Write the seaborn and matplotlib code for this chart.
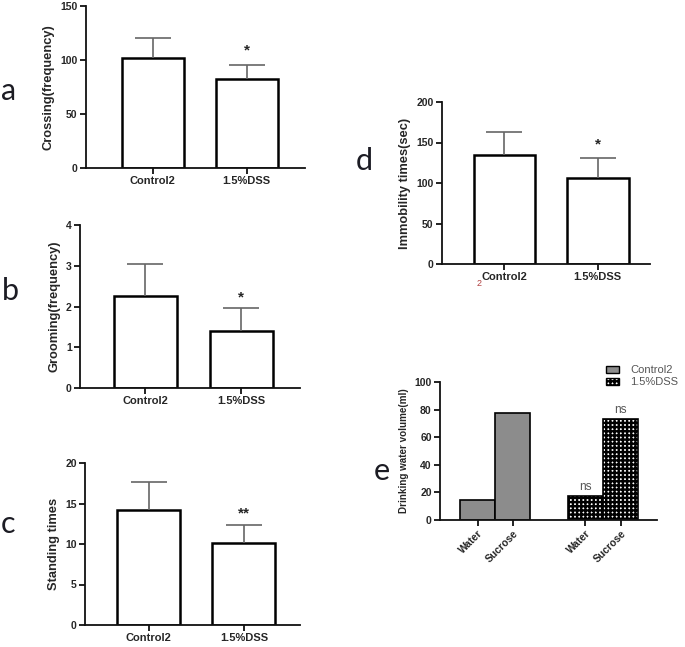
import matplotlib
matplotlib.use("Agg")
import matplotlib.pyplot as plt
import seaborn as sns
import pandas as pd
import numpy as np
from matplotlib.patches import Patch

sns.set_style("ticks")
plt.rcParams['font.family'] = ['Liberation Sans', 'DejaVu Sans']
plt.rcParams['hatch.linewidth'] = 1.7

groups = ["Control2", "1.5%DSS"]

crossing_mean = [101.6, 82.4]
crossing_sd = [18.4, 13.0]
grooming_mean = [2.26, 1.41]
grooming_sd = [0.78, 0.55]
standing_mean = [14.16, 10.09]
standing_sd = [3.49, 2.21]
immob_mean = [134.2, 105.8]
immob_sd = [29.1, 24.7]

drink_groups = ["Control2", "1.5%DSS"]
drink_types = ["Water", "Sucrose"]
drink_control = [14.2, 77.8]
drink_dss = [17.4, 73.0]

W, H = 685, 647
fig = plt.figure(figsize=(W / 100, H / 100), dpi=100)


def axes_px(left, right, top, bottom):
    return fig.add_axes([left / W, 1 - bottom / H, (right - left) / W, (bottom - top) / H])


def style_axes(ax):
    for s in ["top", "right"]:
        ax.spines[s].set_visible(False)
    for s in ["left", "bottom"]:
        ax.spines[s].set_linewidth(1.3)
        ax.spines[s].set_color("#111111")
    ax.tick_params(axis="both", direction="out", length=4, width=1.3, color="#111111", pad=2)
    for lab in ax.get_yticklabels():
        lab.set_fontweight("bold")
        lab.set_fontsize(7.5)
    for lab in ax.get_xticklabels():
        lab.set_fontweight("bold")
        lab.set_fontsize(8)


def bar_panel(ax, means, sds, ylim, yticks, ylabel, xlim, star, star_y, ylabelsize):
    df = pd.DataFrame({"group": groups, "value": means})
    sns.barplot(data=df, x="group", y="value", order=groups, color="white",
                edgecolor="black", linewidth=1.8, width=0.66, errorbar=None,
                saturation=1, ax=ax)
    eb = ax.errorbar(np.arange(len(means)), means, yerr=[np.zeros(len(sds)), sds],
                     fmt="none", ecolor="#666666", elinewidth=1.2, capsize=13,
                     capthick=1.2, zorder=3)
    caplines = eb[1]
    if len(caplines) >= 2:
        caplines[0].set_visible(False)
    ax.set_ylim(*ylim)
    ax.set_yticks(yticks)
    ax.set_xlim(*xlim)
    ax.set_xlabel("")
    ax.set_ylabel(ylabel, fontsize=ylabelsize, fontweight="bold", labelpad=4)
    ax.text(1, star_y, star, ha="center", va="center", fontsize=11, fontweight="bold")
    style_axes(ax)


# Panel a
ax_a = axes_px(86, 305, 6, 168)
bar_panel(ax_a, crossing_mean, crossing_sd, (0, 150), [0, 50, 100, 150],
          "Crossing(frequency)", (-0.71, 1.62), "*", 109, 9.3)

# Panel b
ax_b = axes_px(80, 300, 225, 388)
bar_panel(ax_b, grooming_mean, grooming_sd, (0, 4), [0, 1, 2, 3, 4],
          "Grooming(frequency)", (-0.68, 1.61), "*", 2.22, 9.3)

# Panel c
ax_c = axes_px(85, 300, 463, 625)
bar_panel(ax_c, standing_mean, standing_sd, (0, 20), [0, 5, 10, 15, 20],
          "Standing times", (-0.67, 1.59), "**", 13.8, 9.3)

# Panel d
ax_d = axes_px(442, 650, 102, 264)
bar_panel(ax_d, immob_mean, immob_sd, (0, 200), [0, 50, 100, 150, 200],
          "Immobility times(sec)", (-0.67, 1.56), "*", 147, 9.3)
ax_d.text(-0.27, -0.12, "2", transform=ax_d.get_xaxis_transform(), fontsize=6.5,
          color="#b04040", ha="center", va="center")

# Panel e
ax_e = axes_px(440, 657, 382, 520)
df_e = pd.DataFrame({
    "cluster": [g for g in drink_groups for _ in drink_types],
    "type": drink_types * len(drink_groups),
    "value": drink_control + drink_dss,
})
sns.barplot(data=df_e, x="cluster", y="value", hue="type", order=drink_groups,
            hue_order=drink_types, errorbar=None, width=0.65, ax=ax_e,
            edgecolor="black", linewidth=1.2, saturation=1,
            palette=["#8c8c8c", "#8c8c8c"], legend=False)
centers = []
for p in ax_e.patches:
    cx = p.get_x() + p.get_width() / 2
    centers.append(cx)
    if cx > 0.5:
        p.set_facecolor("white")
        p.set_hatch("++++")
ax_e.set_ylim(0, 100)
ax_e.set_yticks([0, 20, 40, 60, 80, 100])
ax_e.set_xlim(-0.51, 1.5)
ax_e.set_xticks(sorted(centers))
ax_e.set_xticklabels(drink_types * len(drink_groups), rotation=45, ha="right",
                     rotation_mode="anchor")
ax_e.set_xlabel("")
ax_e.set_ylabel("Drinking water volume(ml)", fontsize=7.1, fontweight="bold", labelpad=4)
style_axes(ax_e)
for lab in ax_e.get_xticklabels():
    lab.set_fontsize(7.5)
dss_centers = sorted([c for c in centers if c > 0.5])
ax_e.text(dss_centers[0], 24, "ns", ha="center", va="center", fontsize=8.5, color="#555555")
ax_e.text(dss_centers[1], 80, "ns", ha="center", va="center", fontsize=8.5, color="#555555")

handles = [Patch(facecolor="#8c8c8c", edgecolor="black", linewidth=1.0),
           Patch(facecolor="white", edgecolor="black", hatch="++++", linewidth=1.0)]
leg = fig.legend(handles, drink_groups, loc="upper left",
                 bbox_to_anchor=(606 / W, 1 - 365 / H), frameon=False,
                 fontsize=8, handlelength=1.2, handleheight=0.6, handletextpad=1.0,
                 labelspacing=0.2, borderaxespad=0, borderpad=0)
for t in leg.get_texts():
    t.set_color("#555555")

# panel letters
letter_kw = dict(fontsize=22, family=["Lato", "DejaVu Sans"], color="#1c1c24", ha="center")
fig.text(8.5 / W, 1 - 100 / H, "a", va="baseline", **letter_kw)
fig.text(10 / W, 1 - 300 / H, "b", va="baseline", **letter_kw)
fig.text(8.5 / W, 1 - 533 / H, "c", va="baseline", **letter_kw)
fig.text(364 / W, 1 - 170 / H, "d", va="baseline", **letter_kw)
fig.text(382 / W, 1 - 480 / H, "e", va="baseline", **letter_kw)

fig.savefig("out.png", dpi=100)
